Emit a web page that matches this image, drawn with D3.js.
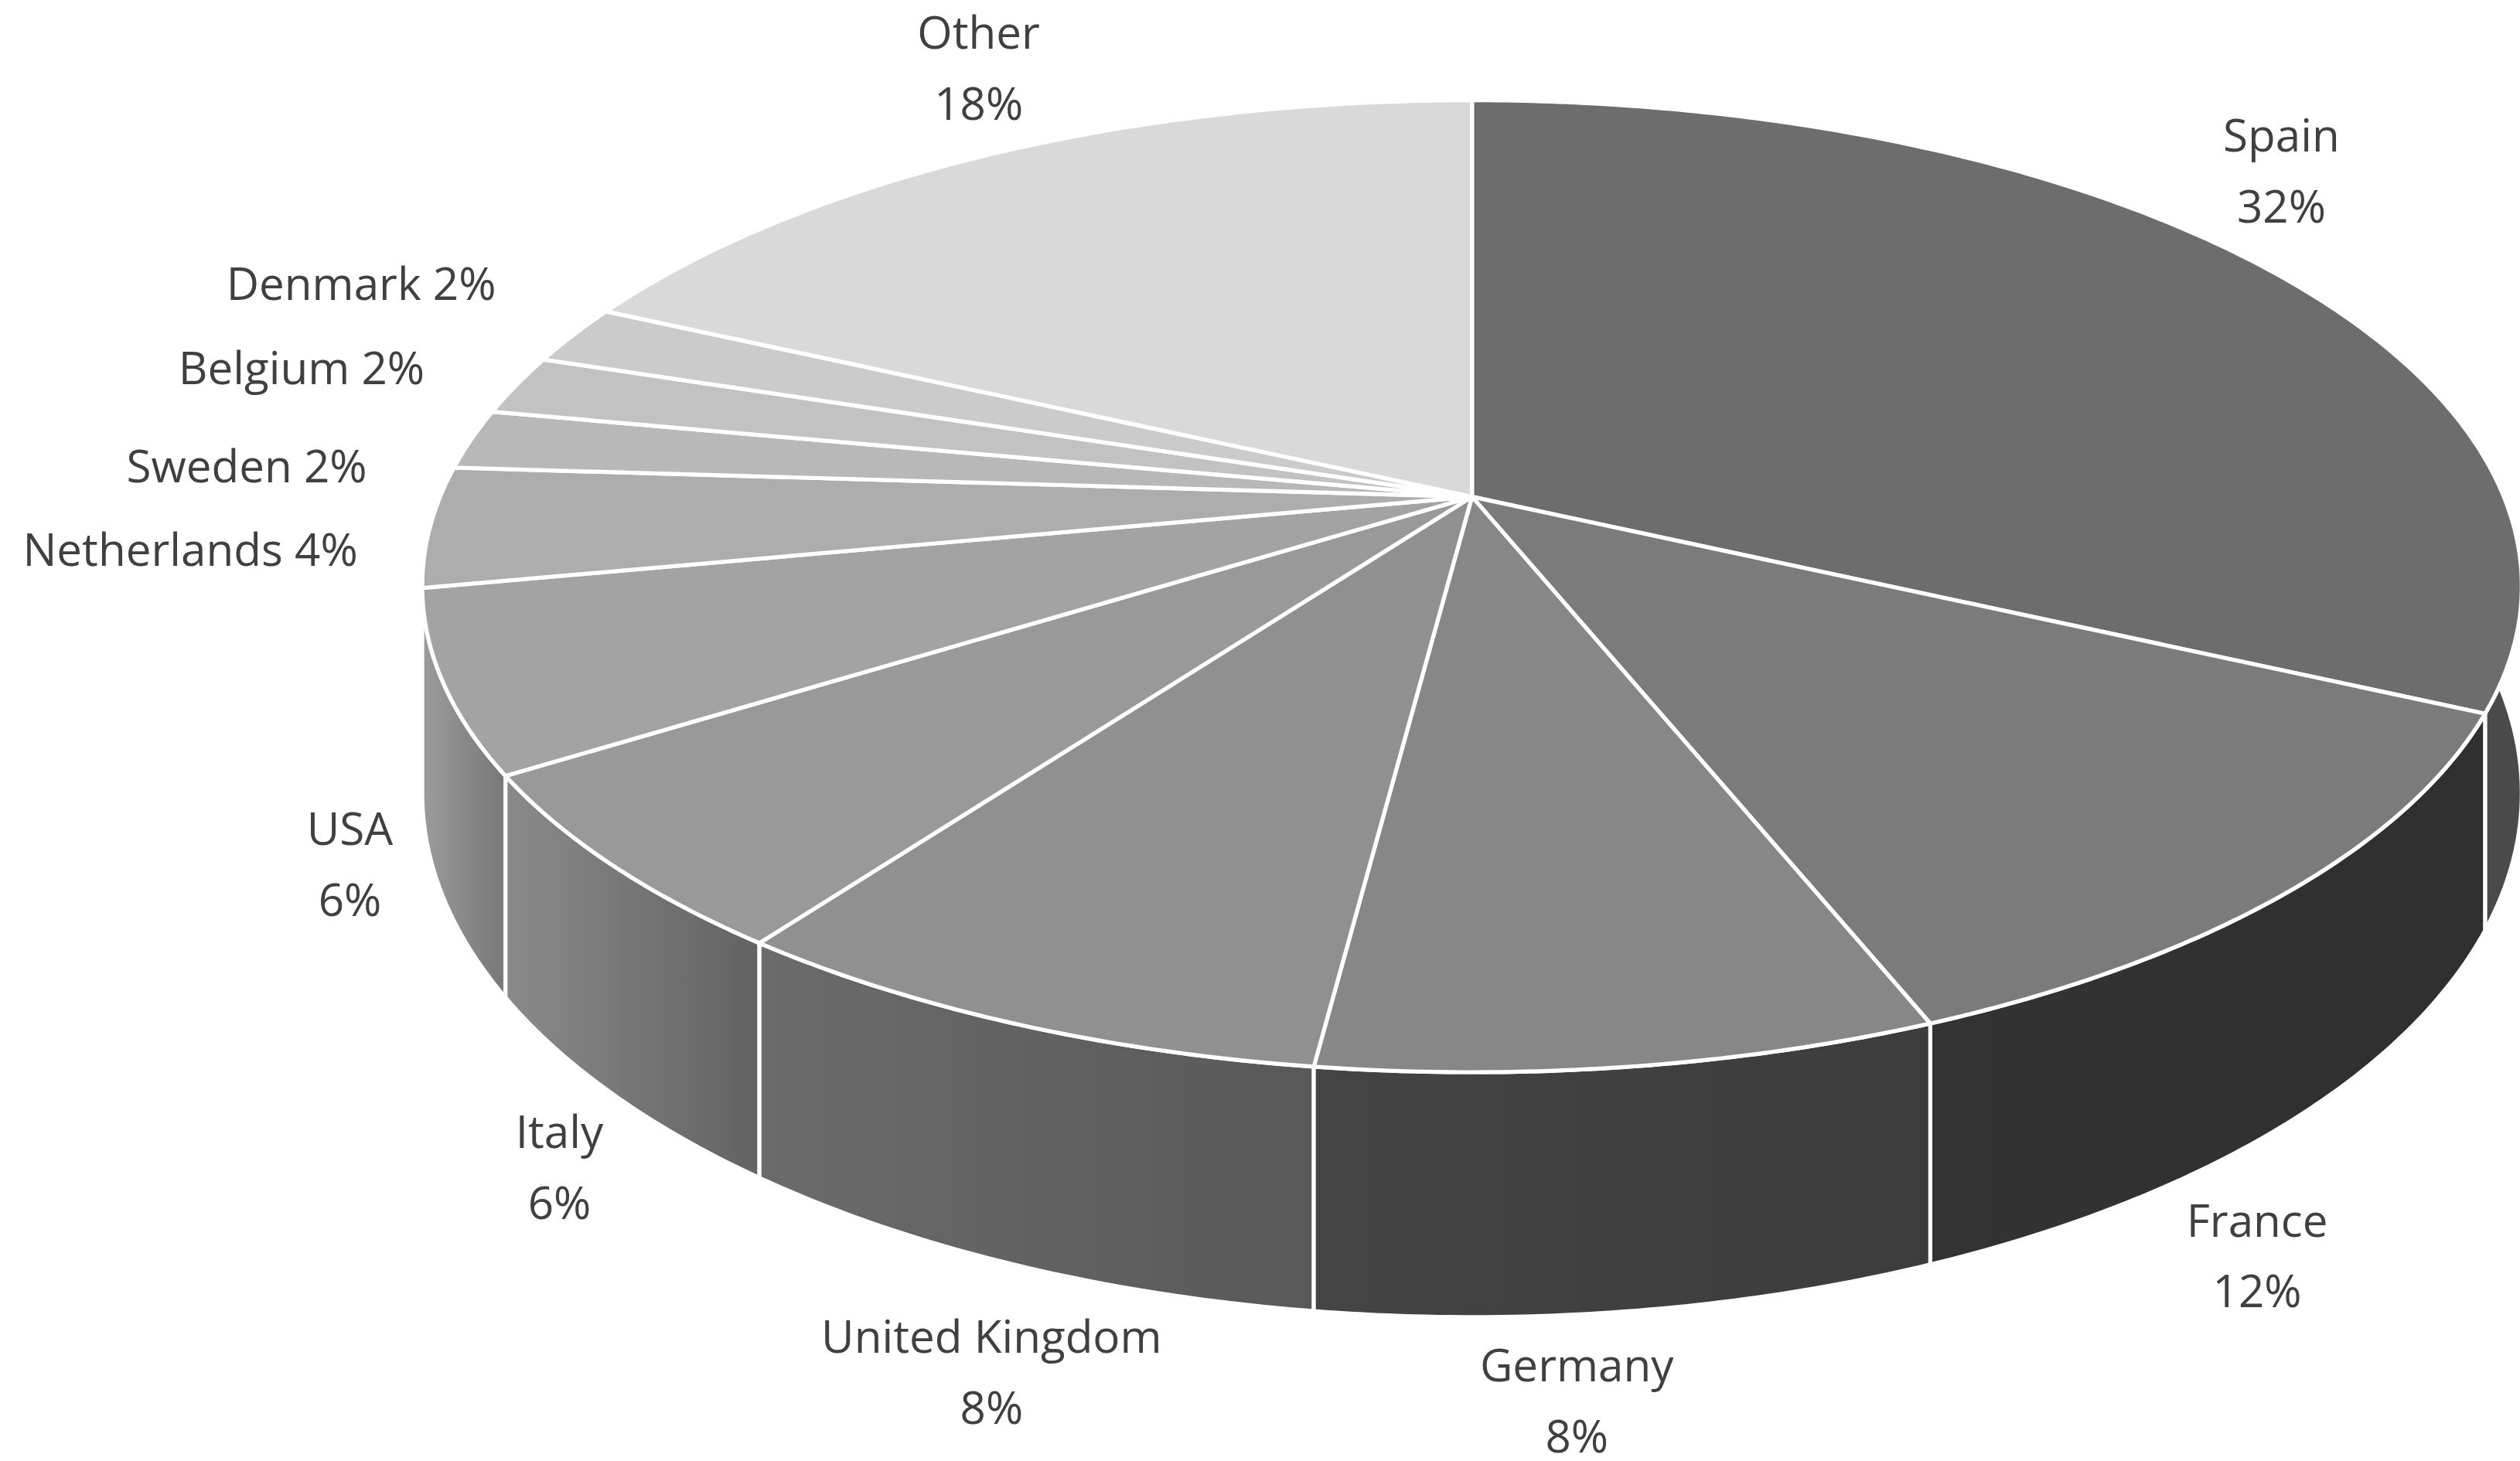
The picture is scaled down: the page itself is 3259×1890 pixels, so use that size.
<!DOCTYPE html>
<html><head><meta charset="utf-8">
<script src="https://cdn.jsdelivr.net/npm/d3@7"></script>
<style>body{margin:0;background:#fff}</style>
</head><body>
<svg id="chart"></svg>
<script>
// data
var categories = ["Spain","France","Germany","United Kingdom","Italy","USA","Netherlands","Sweden","Belgium","Denmark","Other"];
var shares = [32,12,8,8,6,6,4,2,2,2,18];
var topColors = ["#6d6d6d","#7b7b7b","#878787","#909090","#999999","#a3a3a3","#adadad","#b8b8b8","#c2c2c2","#cbcbcb","#d9d9d9"];
var sideLight = ["#4a4a4a","#333333","#444444","#6b6b6b","#8a8a8a","#9c9c9c","#999","#a5a5a5","#b0b0b0","#b8b8b8","#c5c5c5"];
var sideDark  = ["#4a4a4a","#2f2f2f","#3c3c3c","#585858","#626262","#777777","#888","#959595","#a0a0a0","#a8a8a8","#b5b5b5"];
var twoLine = [true,true,true,true,true,true,false,false,false,false,true];
var labelPos = [[1415,94],[1400,767],[978,857],[615,839],[347,712],[217,524],[118,351],[153,299],[187,238],[224,186],[607,30]];

var W = 1563, H = 906;
var svg = d3.select("#chart").attr("width",3259).attr("height",1890).attr("viewBox","0 0 "+W+" "+H);
var defs = svg.append("defs");

// perspective projection of a unit disk
var cx = 913, cy = 308, A = 640, B = 291.3, e = -0.184, D0 = 124;
function proj(t, down) {
  var u = Math.sin(t), w = -Math.cos(t), den = 1 + e*w;
  return [cx + A*u/den, cy + B*w/den + (down ? D0/den : 0)];
}
var pie = d3.pie().sort(null).value(function(d){return d;}).startAngle(0).endAngle(2*Math.PI);
var arcs = pie(shares);

function arcPts(a0, a1, down) {
  var n = Math.max(4, Math.ceil((a1-a0)/0.01)), pts = [];
  for (var i=0;i<=n;i++) pts.push(proj(a0+(a1-a0)*i/n, down));
  return pts;
}
var line = d3.line();

// walls, back to front
var walls = arcs.map(function(a,i){return {a:a,i:i,m:-Math.cos((a.startAngle+a.endAngle)/2)};})
  .sort(function(p,q){return p.m-q.m;});
walls.forEach(function(d){
  var top = arcPts(d.a.startAngle, d.a.endAngle, false);
  var bot = arcPts(d.a.startAngle, d.a.endAngle, true).reverse();
  var xs = top.map(function(p){return p[0];});
  var g = defs.append("linearGradient").attr("id","g"+d.i).attr("gradientUnits","userSpaceOnUse")
    .attr("x1",d3.min(xs)).attr("x2",d3.max(xs)).attr("y1",0).attr("y2",0);
  g.append("stop").attr("offset",0).attr("stop-color",sideLight[d.i]);
  g.append("stop").attr("offset",1).attr("stop-color",sideDark[d.i]);
  svg.append("path").attr("d", line(top.concat(bot))+"Z")
    .attr("fill","url(#g"+d.i+")").attr("stroke","#fff").attr("stroke-width",2.5).attr("stroke-linejoin","round");
});

// top faces
arcs.forEach(function(a,i){
  var pts = [[cx,cy]].concat(arcPts(a.startAngle, a.endAngle, false));
  svg.append("path").attr("d", line(pts)+"Z").attr("fill",topColors[i])
    .attr("stroke","#fff").attr("stroke-width",2.5).attr("stroke-linejoin","round");
});

// labels
categories.forEach(function(c,i){
  var t = svg.append("text").attr("text-anchor","middle").attr("font-family","Open Sans, sans-serif")
    .attr("font-size",28).attr("fill","#404040").attr("x",labelPos[i][0]).attr("y",labelPos[i][1]);
  if (twoLine[i]) {
    t.append("tspan").attr("x",labelPos[i][0]).text(c);
    t.append("tspan").attr("x",labelPos[i][0]).attr("dy",44).text(shares[i]+"%");
  } else t.text(c+" "+shares[i]+"%");
});
</script>
</body></html>
